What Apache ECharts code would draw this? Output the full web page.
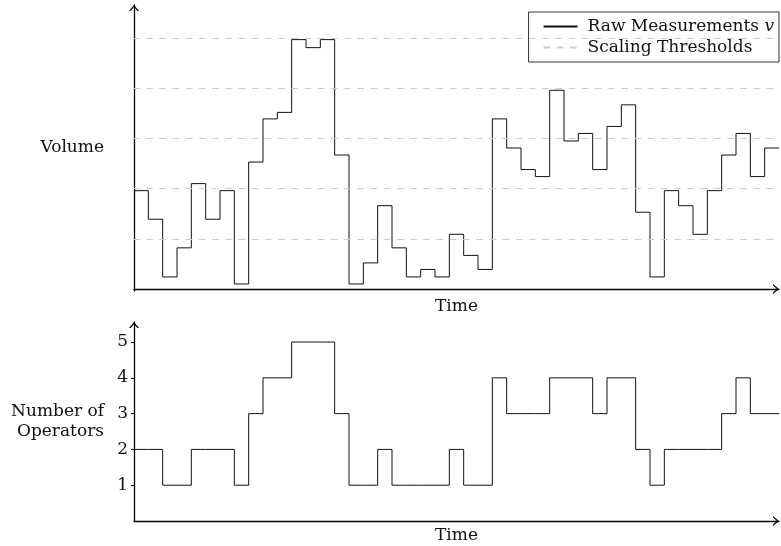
<!DOCTYPE html>
<html>
<head>
<meta charset="utf-8">
<script src="https://cdn.jsdelivr.net/npm/echarts@6/dist/echarts.min.js"></script>
<style>
html, body { margin: 0; padding: 0; background: #fff; }
#chart { width: 781px; height: 546px; }
</style>
</head>
<body>
<div id="chart"></div>
<script>
// raw volume per time step (threshold units)
const volume = [1.96, 1.39, 0.24, 0.82, 2.10, 1.39, 1.96, 0.10, 2.53, 3.39,
  3.52, 4.97, 4.81, 4.97, 2.67, 0.10, 0.52, 1.66, 0.82, 0.24,
  0.39, 0.24, 1.09, 0.67, 0.39, 3.39, 2.81, 2.38, 2.24, 3.96,
  2.95, 3.10, 2.38, 3.24, 3.67, 1.53, 0.24, 1.96, 1.66, 1.09,
  1.96, 2.67, 3.10, 2.24, 2.81];
// number of operators per time step
const operators = [2, 2, 1, 1, 2, 2, 2, 1, 3, 4,
  4, 5, 5, 5, 3, 1, 1, 2, 1, 1,
  1, 1, 2, 1, 1, 4, 3, 3, 3, 4,
  4, 4, 3, 4, 4, 2, 1, 2, 2, 2,
  2, 3, 4, 3, 3];
const thresholds = [1, 2, 3, 4, 5];
const operatorTicks = [1, 2, 3, 4, 5];
const volumeName = 'Raw Measurements';
const thresholdName = 'Scaling Thresholds';

const font = 'DejaVu Serif';
const ink = '#111';
// open arrow head, pointing up (echarts rotates it)
const arrowHead = 'path://M0,6 L5,0 L10,6 L8.4,6 L5,2 L1.6,6 Z';

// a step line needs one more point to close its last step
function stepPoints(values) {
  const pts = values.map((v, i) => [i, v]);
  pts.push([values.length, values[values.length - 1]]);
  return pts;
}

function axisLine() {
  return {
    show: true,
    symbol: ['none', arrowHead],
    symbolSize: [10, 6],
    symbolOffset: [0, -3],
    lineStyle: { color: '#000', width: 1.3 }
  };
}

function timeAxis(gridIndex, gap) {
  return {
    type: 'value',
    gridIndex: gridIndex,
    min: 0,
    max: volume.length,
    axisLine: axisLine(),
    axisTick: { show: false },
    axisLabel: { show: false },
    splitLine: { show: false },
    name: 'Time',
    nameLocation: 'middle',
    nameGap: gap,
    nameTextStyle: { fontFamily: font, fontSize: 17, color: ink }
  };
}

const chart = echarts.init(document.getElementById('chart'));
chart.setOption({
  animation: false,
  backgroundColor: '#fff',
  grid: [
    { left: 134, right: 2, top: 5, bottom: 255 },
    { left: 134, right: 2, top: 322, bottom: 25 }
  ],
  legend: {
    data: [volumeName, thresholdName],
    orient: 'vertical',
    right: 2,
    top: 12,
    padding: [6, 5, 6, 14],
    itemWidth: 34,
    itemHeight: 14,
    itemGap: 4,
    selectedMode: false,
    backgroundColor: '#fff',
    borderColor: '#333',
    borderWidth: 1,
    borderRadius: 0,
    itemStyle: { opacity: 0 },
    textStyle: {
      fontFamily: font,
      fontSize: 17,
      color: ink,
      padding: [0, 0, 0, 5],
      rich: { i: { fontFamily: font, fontSize: 17, fontStyle: 'italic', color: ink } }
    },
    formatter: function (name) {
      return name === volumeName ? name + ' {i|v}' : name;
    }
  },
  xAxis: [timeAxis(0, 7), timeAxis(1, 6)],
  yAxis: [
    {
      type: 'value',
      gridIndex: 0,
      min: -0.04,
      max: 5.66,
      axisLine: axisLine(),
      axisTick: { show: false },
      axisLabel: { show: false },
      splitLine: { show: false },
      name: 'Volume',
      nameLocation: 'middle',
      nameRotate: 0,
      nameGap: 30,
      nameTextStyle: { fontFamily: font, fontSize: 17, color: ink }
    },
    {
      type: 'value',
      gridIndex: 1,
      min: 0,
      max: 5.56,
      interval: 1,
      axisLine: axisLine(),
      axisTick: { show: true, length: 3, customValues: operatorTicks, lineStyle: { color: '#000', width: 1 } },
      axisLabel: { customValues: operatorTicks, margin: 6, fontFamily: font, fontSize: 17, color: ink },
      splitLine: { show: false },
      name: 'Number of\nOperators',
      nameLocation: 'middle',
      nameRotate: 0,
      nameGap: 30,
      nameTextStyle: { fontFamily: font, fontSize: 17, color: ink, lineHeight: 20 }
    }
  ],
  series: [
    {
      name: thresholdName,
      type: 'line',
      xAxisIndex: 0,
      yAxisIndex: 0,
      data: [],
      symbol: 'none',
      z: 1,
      lineStyle: { color: '#cccccc', width: 1, type: [6.6, 6.6] },
      markLine: {
        silent: true,
        symbol: 'none',
        label: { show: false },
        lineStyle: { color: '#cccccc', width: 1, type: [6.6, 6.6], dashOffset: 1 },
        data: thresholds.map(v => ({ yAxis: v }))
      }
    },
    {
      name: volumeName,
      type: 'line',
      xAxisIndex: 0,
      yAxisIndex: 0,
      step: 'end',
      symbol: 'none',
      z: 3,
      lineStyle: { color: ink, width: 1 },
      data: stepPoints(volume)
    },
    {
      name: 'Operators',
      type: 'line',
      xAxisIndex: 1,
      yAxisIndex: 1,
      step: 'end',
      symbol: 'none',
      z: 3,
      lineStyle: { color: ink, width: 1 },
      data: stepPoints(operators)
    }
  ]
});
</script>
</body>
</html>
